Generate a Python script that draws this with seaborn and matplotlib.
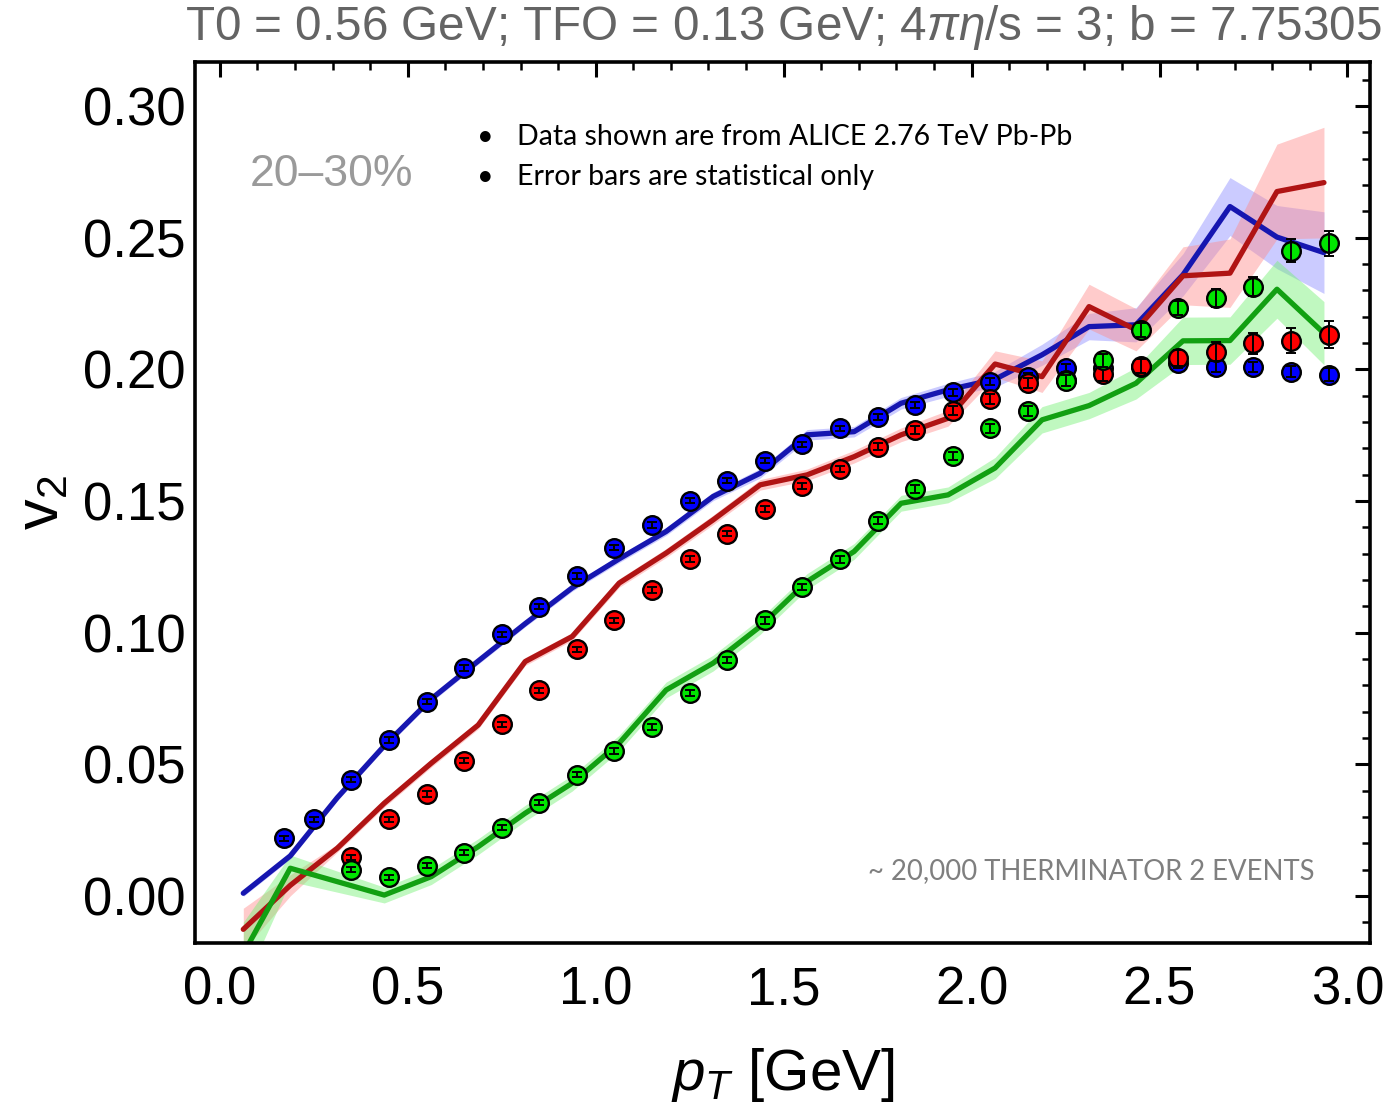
import numpy as np
import pandas as pd
import matplotlib
matplotlib.use("Agg")
import matplotlib.pyplot as plt
import seaborn as sns
from matplotlib.ticker import MultipleLocator, FormatStrFormatter

# ---------------- data ----------------
# ALICE data points (pT in GeV)
pt_blue = [0.17, 0.25, 0.35, 0.45, 0.55, 0.65, 0.75, 0.85, 0.95, 1.05, 1.15, 1.25, 1.35, 1.45,
           1.55, 1.65, 1.75, 1.85, 1.95, 2.05, 2.15, 2.25, 2.35, 2.45, 2.55, 2.65, 2.75, 2.85, 2.95]
v2_blue = [0.0219, 0.0291, 0.0441, 0.0592, 0.0738, 0.0865, 0.0994, 0.1099, 0.1215, 0.1323, 0.1409,
           0.1501, 0.1577, 0.1653, 0.1715, 0.1776, 0.1820, 0.1865, 0.1912, 0.1952, 0.1970, 0.2004,
           0.2005, 0.2008, 0.2023, 0.2010, 0.2008, 0.1991, 0.1979]
err_blue = [0.001, 0.001, 0.001, 0.001, 0.001, 0.001, 0.001, 0.001, 0.001, 0.001, 0.001, 0.001,
            0.001, 0.001, 0.001, 0.001, 0.0012, 0.0012, 0.0012, 0.0013, 0.0014, 0.0015, 0.0016,
            0.0017, 0.0018, 0.002, 0.002, 0.0022, 0.0024]

pt_idx = [0.35, 0.45, 0.55, 0.65, 0.75, 0.85, 0.95, 1.05, 1.15, 1.25, 1.35, 1.45, 1.55, 1.65,
          1.75, 1.85, 1.95, 2.05, 2.15, 2.25, 2.35, 2.45, 2.55, 2.65, 2.75, 2.85, 2.95]
v2_red = [0.0147, 0.0291, 0.0387, 0.0514, 0.0652, 0.0780, 0.0937, 0.1046, 0.1162, 0.1279, 0.1375,
          0.1469, 0.1557, 0.1621, 0.1706, 0.1770, 0.1842, 0.1886, 0.1947, 0.1960, 0.1981, 0.2012,
          0.2042, 0.2067, 0.2099, 0.2109, 0.2131]
err_red = [0.001, 0.001, 0.001, 0.001, 0.001, 0.001, 0.001, 0.001, 0.001, 0.001, 0.001, 0.0012,
           0.0012, 0.0013, 0.0014, 0.0015, 0.0017, 0.0019, 0.002, 0.0022, 0.0025, 0.0028, 0.003,
           0.0035, 0.004, 0.0046, 0.0052]
v2_green = [0.0099, 0.0070, 0.0114, 0.0164, 0.0259, 0.0354, 0.0460, 0.0550, 0.0641, 0.0770, 0.0896,
            0.1046, 0.1172, 0.1279, 0.1425, 0.1545, 0.1671, 0.1776, 0.1842, 0.1957, 0.2034, 0.2150,
            0.2234, 0.2270, 0.2314, 0.2450, 0.2479]
err_green = [0.001, 0.001, 0.001, 0.001, 0.001, 0.001, 0.001, 0.001, 0.001, 0.001, 0.001, 0.0012,
             0.0012, 0.0013, 0.0014, 0.0015, 0.0016, 0.0018, 0.002, 0.0022, 0.0024, 0.0026, 0.0027,
             0.0034, 0.0036, 0.0044, 0.0047]

# THERMINATOR model curves (bin centres)
pt_model = [0.0625, 0.1875, 0.3125, 0.4375, 0.5625, 0.6875, 0.8125, 0.9375, 1.0625, 1.1875, 1.3125,
            1.4375, 1.5625, 1.6875, 1.8125, 1.9375, 2.0625, 2.1875, 2.3125, 2.4375, 2.5625, 2.6875,
            2.8125, 2.9375]
model_blue = [0.001, 0.0152, 0.0373, 0.0570, 0.0748, 0.0892, 0.1034, 0.1170, 0.1280, 0.1384, 0.1517,
              0.1605, 0.1751, 0.1763, 0.1871, 0.1922, 0.1962, 0.2055, 0.2162, 0.2169, 0.2359, 0.2618,
              0.2502, 0.2443]
band_blue = [0.0012, 0.0012, 0.0012, 0.0012, 0.0012, 0.0012, 0.0012, 0.0013, 0.0014, 0.0015, 0.0016,
             0.0018, 0.002, 0.002, 0.0022, 0.0025, 0.003, 0.004, 0.005, 0.0065, 0.008, 0.011,
             0.012, 0.0155]
model_red = [-0.0127, 0.0040, 0.0181, 0.0352, 0.0504, 0.0649, 0.0890, 0.0985, 0.1188, 0.1302, 0.1428,
             0.1561, 0.1599, 0.1668, 0.1751, 0.1814, 0.2020, 0.1972, 0.2238, 0.2150, 0.2355, 0.2365,
             0.2675, 0.2709]
band_red = [0.008, 0.004, 0.0015, 0.0015, 0.0015, 0.0015, 0.0015, 0.0015, 0.0016, 0.0017, 0.0018,
            0.002, 0.0022, 0.0024, 0.0026, 0.003, 0.005, 0.006, 0.0085, 0.008, 0.011, 0.013,
            0.018, 0.021]
model_green = [-0.022, 0.0105, 0.0054, 0.0003, 0.0073, 0.0187, 0.0314, 0.0428, 0.0580, 0.0782, 0.0884,
               0.1023, 0.1194, 0.1308, 0.1491, 0.1523, 0.1625, 0.1808, 0.1862, 0.1947, 0.2108, 0.2109,
               0.2304, 0.2137]
band_green = [0.012, 0.005, 0.004, 0.003, 0.003, 0.003, 0.003, 0.003, 0.003, 0.003, 0.003,
              0.003, 0.003, 0.003, 0.003, 0.003, 0.004, 0.005, 0.005, 0.006, 0.009, 0.009,
              0.011, 0.012]

x_ticks = [0.0, 0.5, 1.0, 1.5, 2.0, 2.5, 3.0]
y_ticks = [0.00, 0.05, 0.10, 0.15, 0.20, 0.25, 0.30]

# ---------------- style ----------------
sns.set_style("white")
plt.rcParams['font.family'] = ['Liberation Sans', 'DejaVu Sans']
plt.rcParams['mathtext.fontset'] = 'custom'
plt.rcParams['mathtext.rm'] = 'Liberation Sans'
plt.rcParams['mathtext.it'] = 'Liberation Sans:italic'
plt.rcParams['mathtext.bf'] = 'Liberation Sans:bold'
plt.rcParams['text.color'] = 'black'
plt.rcParams['axes.labelcolor'] = 'black'
plt.rcParams['xtick.color'] = 'black'
plt.rcParams['ytick.color'] = 'black'

W, H = 1390, 1103
fig = plt.figure(figsize=(W / 100, H / 100), dpi=100)
L, R, T, B = 195, 1370, 62, 943
ax = fig.add_axes([L / W, 1 - B / H, (R - L) / W, (B - T) / H])

series = [
    ("blue", pt_blue, v2_blue, err_blue, model_blue, band_blue,
     "#0000ff", "#1616b0", "#8c8cff"),
    ("red", pt_idx, v2_red, err_red, model_red, band_red,
     "#ff0000", "#b01414", "#ff8c8c"),
    ("green", pt_idx, v2_green, err_green, model_green, band_green,
     "#00e600", "#12a012", "#74f074"),
]

# bands
for name, px, py, pe, my, mb, pc, lc, bc in series:
    my_a = np.array(my); mb_a = np.array(mb)
    ax.fill_between(pt_model, my_a - mb_a, my_a + mb_a, color=bc, alpha=0.45, lw=0, zorder=1)

# model lines
for name, px, py, pe, my, mb, pc, lc, bc in series:
    sns.lineplot(x=pt_model, y=my, ax=ax, color=lc, lw=3.8, errorbar=None, zorder=2)

# data points
z = 4
for name, px, py, pe, my, mb, pc, lc, bc in series:
    sns.scatterplot(x=px, y=py, ax=ax, s=180, color=pc, edgecolor="black", linewidth=1.7, zorder=z)
    ax.errorbar(px, py, yerr=pe, fmt="none", ecolor="black", elinewidth=1.4,
                capsize=3.4, capthick=1.4, zorder=z + 0.1)
    z += 0.2

ax.set_xlim(-0.066, 3.06)
ax.set_ylim(-0.0179, 0.3167)
ax.set_xticks(x_ticks)
ax.set_yticks(y_ticks)
ax.xaxis.set_minor_locator(MultipleLocator(0.1))
ax.yaxis.set_minor_locator(MultipleLocator(0.01))
ax.xaxis.set_major_formatter(FormatStrFormatter("%.1f"))
ax.yaxis.set_major_formatter(FormatStrFormatter("%.2f"))
ax.tick_params(which="both", direction="in", top=True, right=True, color="black",
               labelcolor="black")
ax.tick_params(which="major", length=11, width=2.2, labelsize=38, pad=7)
ax.tick_params(which="minor", length=6, width=1.8)
ax.tick_params(axis="x", which="major", pad=16)
for s in ax.spines.values():
    s.set_linewidth(2.6)
    s.set_color("black")

ax.set_xlabel(r"$p_T$ [GeV]", fontsize=42, labelpad=22, color="black")
ax.set_ylabel(r"$\mathregular{v_2}$", fontsize=44, labelpad=8, color="black")

fig.text(783 / W, 1 - 28 / H,
         r"T0 = 0.56 GeV; TFO = 0.13 GeV; 4$\pi\eta$/s = 3; b = 7.75305",
         fontsize=34.3, color="#646464", ha="center", va="center")
fig.text(331 / W, 1 - 175 / H, "20\u201330%", fontsize=32, color="#9a9a9a",
         ha="center", va="center")

note_font = ["Lato", "DejaVu Sans"]
fig.text(485 / W, 1 - 137 / H, "\u2022", fontsize=20.5, family=note_font, ha="center", va="center")
fig.text(517 / W, 1 - 137 / H, "Data shown are from ALICE 2.76 TeV Pb-Pb", fontsize=20.5,
         family=note_font, ha="left", va="center")
fig.text(485 / W, 1 - 177 / H, "\u2022", fontsize=20.5, family=note_font, ha="center", va="center")
fig.text(517 / W, 1 - 177 / H, "Error bars are statistical only", fontsize=20.5,
         family=note_font, ha="left", va="center")
fig.text(1315 / W, 1 - 871 / H, "~ 20,000 THERMINATOR 2 EVENTS", fontsize=19.8,
         family=note_font, color="#7f7f7f", ha="right", va="center")

fig.savefig("out.png", dpi=100)
